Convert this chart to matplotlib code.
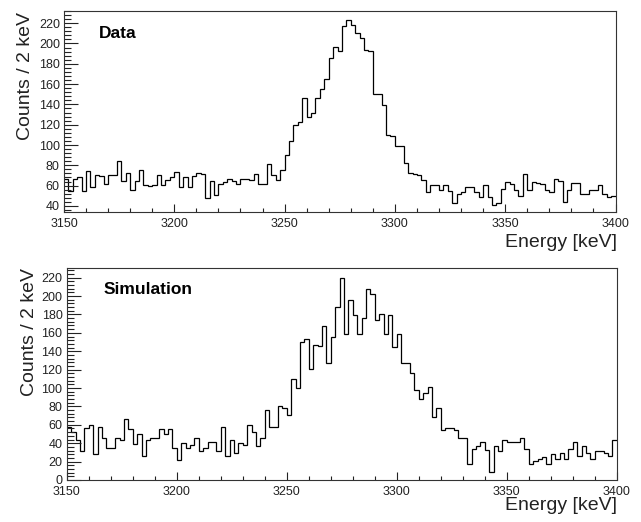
import numpy as np
import matplotlib
matplotlib.use("Agg")
import matplotlib.pyplot as plt
from matplotlib.ticker import MultipleLocator

plt.rcParams['font.family'] = ['Liberation Sans', 'DejaVu Sans']

# 2 keV bins from 3150 to 3400 keV
bin_lo = 3150
bin_hi = 3400
bin_width = 2

data_counts = [
    67, 55, 67, 68, 55, 74, 59, 70, 69, 62,
    70, 70, 84, 65, 72, 56, 65, 75, 61, 60,
    61, 70, 61, 66, 68, 73, 59, 68, 59, 69,
    72, 71, 48, 65, 51, 62, 64, 67, 65, 62,
    67, 67, 66, 71, 62, 62, 81, 70, 66, 75,
    90, 104, 120, 123, 146, 128, 132, 146, 155, 165,
    186, 197, 193, 217, 223, 218, 210, 205, 194, 193,
    150, 150, 139, 110, 109, 99, 99, 82, 72, 71,
    70, 66, 54, 61, 61, 56, 61, 55, 43, 52,
    54, 59, 59, 54, 49, 61, 49, 41, 43, 57,
    64, 62, 56, 50, 71, 56, 64, 63, 62, 56,
    54, 67, 65, 44, 56, 63, 63, 52, 52, 56,
    56, 61, 52, 49, 50,
]

sim_counts = [
    58, 52, 43, 31, 57, 60, 28, 58, 46, 35,
    35, 46, 43, 66, 55, 39, 50, 26, 43, 46,
    46, 55, 50, 55, 35, 22, 40, 35, 38, 46,
    32, 35, 41, 41, 31, 58, 26, 43, 29, 40,
    38, 60, 52, 37, 46, 76, 58, 58, 81, 78,
    71, 110, 100, 150, 153, 121, 147, 146, 167, 127,
    155, 188, 220, 159, 196, 179, 159, 176, 208, 202,
    174, 181, 159, 179, 145, 159, 127, 127, 116, 98,
    88, 95, 101, 69, 78, 54, 57, 57, 54, 46,
    46, 17, 34, 37, 41, 33, 9, 37, 32, 43,
    41, 41, 41, 46, 34, 17, 21, 23, 25, 17,
    28, 23, 29, 23, 34, 41, 26, 37, 29, 23,
    32, 32, 29, 26, 44,
]

edges = np.arange(bin_lo, bin_hi + bin_width, bin_width)

W, H = 641, 522
fig = plt.figure(figsize=(W / 100, H / 100), dpi=100)

def px_axes(left, top, right, bottom):
    return fig.add_axes([left / W, 1 - bottom / H, (right - left) / W, (bottom - top) / H])

ax1 = px_axes(64, 11, 615.5, 212)
ax2 = px_axes(66.7, 268, 616.7, 480)

panels = [
    (ax1, data_counts, (34, 232), "Data", (99, 34), 243, (26, 12)),
    (ax2, sim_counts, (0, 230.5), "Simulation", (104, 289), 505, (29, 268)),
]

for ax, counts, ylim, name, name_pos, xlab_y, ylab_pos in panels:
    ax.stairs(counts, edges, color='black', lw=0.9, baseline=None)
    ax.set_xlim(bin_lo, bin_hi)
    ax.set_ylim(*ylim)
    ax.xaxis.set_major_locator(MultipleLocator(50))
    ax.xaxis.set_minor_locator(MultipleLocator(10))
    ax.yaxis.set_major_locator(MultipleLocator(20))
    ax.yaxis.set_minor_locator(MultipleLocator(4))
    ax.tick_params(axis='x', which='major', direction='in', length=5.5, width=0.8,
                   labelsize=9, pad=4, colors='#222222')
    ax.tick_params(axis='x', which='minor', direction='in', length=2.8, width=0.8, colors='#222222')
    ax.tick_params(axis='y', which='major', direction='in', length=10, width=0.8,
                   labelsize=9, pad=3, colors='#222222')
    ax.tick_params(axis='y', which='minor', direction='in', length=5, width=0.8, colors='#222222')
    for sp in ax.spines.values():
        sp.set_linewidth(0.8)
        sp.set_color('#333333')

    fig.text(name_pos[0] / W, 1 - name_pos[1] / H, name, fontsize=12.5,
             fontweight='bold', ha='left', va='center')
    fig.text(617 / W, 1 - xlab_y / H, "Energy [keV]", fontsize=14,
             ha='right', va='center', color='#222222')
    fig.text(ylab_pos[0] / W, 1 - ylab_pos[1] / H, "Counts / 2 keV", fontsize=14,
             rotation=90, ha='center', va='top', color='#222222')

fig.savefig("out.png", dpi=100)
